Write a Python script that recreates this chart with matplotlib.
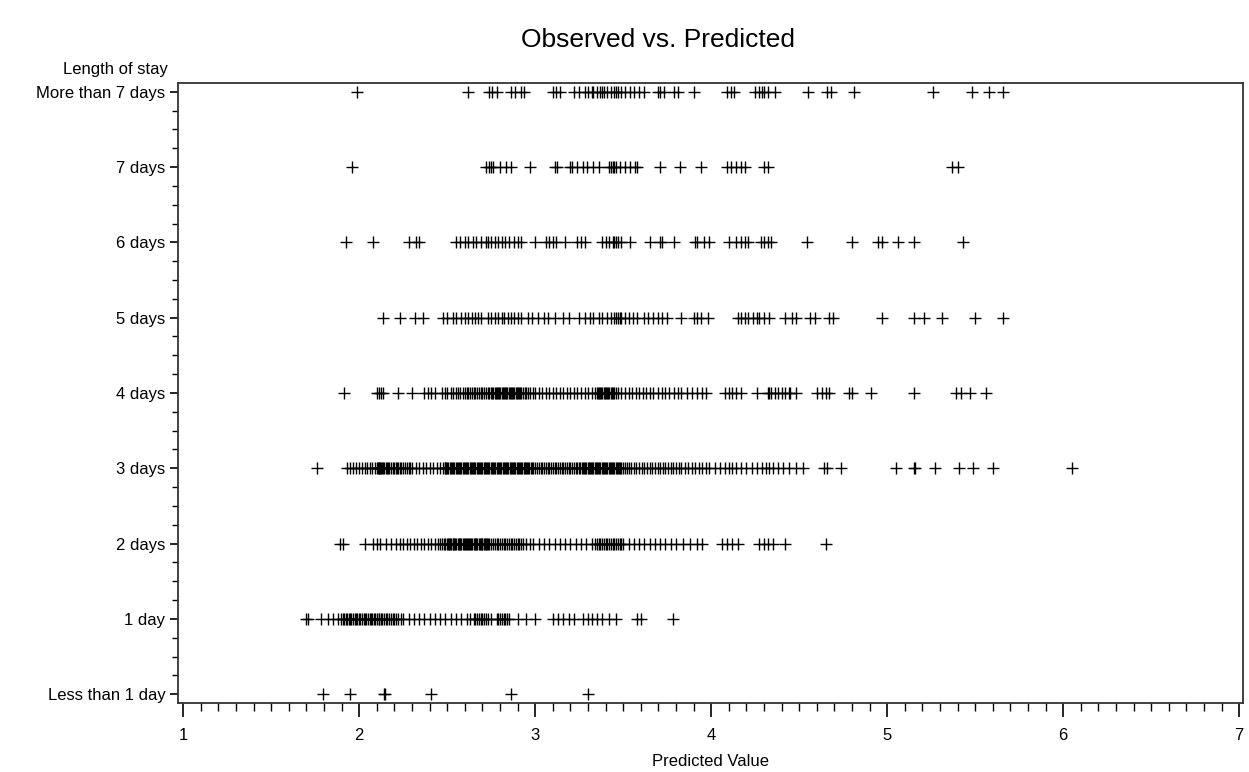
import matplotlib
matplotlib.use("Agg")
import matplotlib.pyplot as plt
from matplotlib.ticker import MultipleLocator

plt.rcParams['font.family'] = ['Liberation Sans', 'DejaVu Sans']

categories = ["Less than 1 day", "1 day", "2 days", "3 days", "4 days",
              "5 days", "6 days", "7 days", "More than 7 days"]

pred_lt1 = [1.795, 1.95, 2.14, 2.145, 2.41, 2.86, 3.30]

pred_1 = [1.70, 1.71, 1.78, 1.82, 1.85, 1.88, 1.895, 1.905, 1.915, 1.925, 1.93,
          1.94, 1.95, 1.955, 1.965, 1.975, 1.98, 1.99, 2.00, 2.005, 2.015, 2.025,
          2.03, 2.04, 2.05, 2.06, 2.065, 2.075, 2.085, 2.09, 2.10, 2.11, 2.115,
          2.125, 2.13, 2.14, 2.15, 2.16, 2.17, 2.18, 2.19, 2.20, 2.21, 2.22, 2.235,
          2.25, 2.28, 2.31, 2.34, 2.37, 2.40, 2.43, 2.46, 2.49, 2.52, 2.55, 2.58,
          2.61, 2.63, 2.65, 2.66, 2.67, 2.68, 2.69, 2.70, 2.71, 2.72, 2.73, 2.75,
          2.78, 2.79, 2.80, 2.81, 2.82, 2.83, 2.84, 2.85, 2.90, 2.95, 3.00,
          3.10, 3.13, 3.16, 3.19, 3.22, 3.27, 3.30, 3.32, 3.35, 3.38, 3.42, 3.46,
          3.58, 3.60, 3.78]

pred_2 = [1.89, 1.91, 2.03, 2.08, 2.10, 2.12, 2.15, 2.18, 2.21, 2.23, 2.25, 2.27,
          2.29, 2.31, 2.33, 2.35, 2.37, 2.39, 2.41, 2.43, 2.45, 2.46, 2.47, 2.48,
          2.49, 2.50, 2.505, 2.51, 2.515, 2.52, 2.53, 2.535, 2.54, 2.545, 2.55,
          2.56, 2.565, 2.57, 2.575, 2.58, 2.59, 2.595, 2.60, 2.605, 2.61, 2.62,
          2.625, 2.63, 2.635, 2.64, 2.65, 2.655, 2.66, 2.665, 2.67, 2.68, 2.685,
          2.69, 2.695, 2.70, 2.71, 2.715, 2.72, 2.725, 2.73, 2.74, 2.75, 2.76,
          2.77, 2.78, 2.79, 2.80, 2.81, 2.82, 2.83, 2.84, 2.85, 2.86, 2.87, 2.88,
          2.89, 2.90, 2.91, 2.92, 2.93, 2.95, 2.97, 2.99, 3.02, 3.05, 3.08, 3.11,
          3.14, 3.17, 3.20, 3.23, 3.26, 3.29, 3.32, 3.34, 3.35, 3.36, 3.37, 3.38,
          3.39, 3.40, 3.41, 3.42, 3.43, 3.44, 3.45, 3.46, 3.47, 3.48, 3.49, 3.50,
          3.53, 3.56, 3.59, 3.62, 3.65, 3.68, 3.71, 3.74, 3.77, 3.80, 3.84, 3.88,
          3.92, 3.95, 4.06, 4.09, 4.12, 4.15, 4.27, 4.30, 4.32, 4.35, 4.42, 4.65]

pred_3 = [1.76, 1.93, 1.95, 1.965, 1.98, 2.00, 2.015, 2.03, 2.045, 2.06, 2.075,
          2.09, 2.10, 2.105, 2.11, 2.115, 2.12, 2.125, 2.13, 2.135, 2.14, 2.15,
          2.16, 2.165, 2.17, 2.18, 2.19, 2.20, 2.21, 2.215, 2.22, 2.23, 2.24, 2.25,
          2.26, 2.27, 2.28, 2.29, 2.30, 2.32, 2.34, 2.36, 2.38, 2.40, 2.42, 2.44,
          2.46, 2.475, 2.485, 2.49, 2.495, 2.50, 2.507, 2.514, 2.52, 2.527, 2.534,
          2.54, 2.547, 2.554, 2.56, 2.567, 2.574, 2.58, 2.587, 2.594, 2.60, 2.607,
          2.614, 2.62, 2.627, 2.634, 2.64, 2.647, 2.654, 2.66, 2.667, 2.674, 2.68,
          2.687, 2.694, 2.70, 2.707, 2.714, 2.72, 2.727, 2.734, 2.74, 2.747, 2.754,
          2.76, 2.767, 2.774, 2.78, 2.787, 2.794, 2.80, 2.807, 2.814, 2.82, 2.827,
          2.834, 2.84, 2.847, 2.854, 2.86, 2.867, 2.874, 2.88, 2.887, 2.894, 2.90,
          2.907, 2.914, 2.92, 2.927, 2.934, 2.94, 2.947, 2.954, 2.96, 2.967, 2.974,
          2.98, 2.99, 3.00, 3.01, 3.02, 3.03, 3.04, 3.05, 3.06, 3.07, 3.08, 3.09,
          3.10, 3.11, 3.12, 3.13, 3.14, 3.15, 3.16, 3.17, 3.18, 3.19, 3.20, 3.21,
          3.22, 3.23, 3.24, 3.25, 3.257, 3.264, 3.27, 3.277, 3.284, 3.29, 3.297,
          3.304, 3.31, 3.317, 3.324, 3.33, 3.337, 3.344, 3.35, 3.357, 3.364, 3.37,
          3.377, 3.384, 3.39, 3.397, 3.404, 3.41, 3.417, 3.424, 3.43, 3.437, 3.444,
          3.45, 3.457, 3.464, 3.47, 3.477, 3.484, 3.49, 3.50, 3.51, 3.52, 3.53,
          3.545, 3.56, 3.575, 3.59, 3.605, 3.62, 3.635, 3.65, 3.665, 3.68, 3.695,
          3.71, 3.725, 3.74, 3.755, 3.77, 3.785, 3.80, 3.815, 3.83, 3.85, 3.87,
          3.89, 3.91, 3.93, 3.95, 3.97, 3.99, 4.02, 4.05, 4.08, 4.10, 4.12, 4.14,
          4.17, 4.20, 4.23, 4.26, 4.29, 4.31, 4.33, 4.35, 4.38, 4.41, 4.44, 4.48,
          4.52, 4.64, 4.66, 4.74, 5.05, 5.15, 5.16, 5.27, 5.41, 5.49, 5.60, 6.05]

pred_4 = [1.913, 2.10, 2.115, 2.125, 2.135, 2.22, 2.30, 2.37, 2.39, 2.41, 2.43,
          2.47, 2.49, 2.50, 2.52, 2.53, 2.55, 2.56, 2.57, 2.59, 2.60, 2.61, 2.62,
          2.63, 2.64, 2.65, 2.66, 2.67, 2.68, 2.69, 2.70, 2.71, 2.72, 2.73, 2.74,
          2.75, 2.755, 2.76, 2.77, 2.775, 2.78, 2.79, 2.795, 2.80, 2.81, 2.815,
          2.82, 2.83, 2.835, 2.84, 2.85, 2.855, 2.86, 2.87, 2.875, 2.88, 2.89,
          2.895, 2.90, 2.91, 2.915, 2.92, 2.93, 2.94, 2.95, 2.96, 2.97, 2.99,
          3.00, 3.02, 3.04, 3.06, 3.08, 3.10, 3.12, 3.14, 3.16, 3.18, 3.20, 3.22,
          3.24, 3.26, 3.28, 3.30, 3.32, 3.34, 3.35, 3.355, 3.36, 3.37, 3.375, 3.38,
          3.39, 3.395, 3.40, 3.41, 3.415, 3.42, 3.43, 3.435, 3.44, 3.45, 3.46,
          3.47, 3.49, 3.51, 3.53, 3.55, 3.57, 3.59, 3.61, 3.63, 3.65, 3.67, 3.70,
          3.72, 3.74, 3.76, 3.79, 3.81, 3.83, 3.86, 3.89, 3.92, 3.95, 3.97, 4.08,
          4.10, 4.12, 4.14, 4.17, 4.26, 4.32, 4.33, 4.34, 4.36, 4.38, 4.40, 4.42,
          4.44, 4.45, 4.48, 4.60, 4.63, 4.65, 4.67, 4.78, 4.80, 4.91, 5.15, 5.39,
          5.42, 5.47, 5.56]

pred_5 = [2.135, 2.23, 2.315, 2.36, 2.475, 2.50, 2.53, 2.55, 2.58, 2.60, 2.62,
          2.64, 2.655, 2.675, 2.69, 2.73, 2.75, 2.77, 2.79, 2.81, 2.825, 2.845,
          2.86, 2.88, 2.90, 2.92, 2.96, 2.98, 3.015, 3.05, 3.07, 3.11, 3.16, 3.19,
          3.25, 3.28, 3.31, 3.33, 3.36, 3.38, 3.41, 3.43, 3.45, 3.46, 3.47, 3.48,
          3.49, 3.51, 3.53, 3.555, 3.58, 3.62, 3.64, 3.67, 3.70, 3.72, 3.75, 3.83,
          3.90, 3.92, 3.94, 3.98, 4.15, 4.17, 4.19, 4.21, 4.24, 4.26, 4.27, 4.30,
          4.33, 4.42, 4.46, 4.48, 4.56, 4.59, 4.67, 4.69, 4.97, 5.15, 5.21, 5.31,
          5.50, 5.66]

pred_6 = [1.926, 2.08, 2.285, 2.32, 2.34, 2.55, 2.57, 2.60, 2.62, 2.646, 2.665,
          2.69, 2.72, 2.73, 2.75, 2.77, 2.79, 2.81, 2.83, 2.85, 2.88, 2.90, 2.92,
          3.00, 3.06, 3.08, 3.10, 3.12, 3.17, 3.24, 3.26, 3.28, 3.38, 3.40, 3.42,
          3.44, 3.45, 3.46, 3.47, 3.49, 3.54, 3.65, 3.71, 3.72, 3.79, 3.91, 3.92,
          3.96, 3.99, 4.10, 4.14, 4.17, 4.19, 4.21, 4.28, 4.30, 4.32, 4.34, 4.545,
          4.80, 4.95, 4.97, 5.06, 5.15, 5.43]

pred_7 = [1.96, 2.72, 2.735, 2.746, 2.76, 2.80, 2.835, 2.86, 2.97, 3.11, 3.125,
          3.20, 3.21, 3.24, 3.27, 3.295, 3.33, 3.365, 3.42, 3.43, 3.44, 3.45, 3.46,
          3.48, 3.51, 3.54, 3.565, 3.58, 3.71, 3.82, 3.94, 4.09, 4.11, 4.14, 4.17,
          4.19, 4.30, 4.32, 5.37, 5.40]

pred_gt7 = [1.99, 2.62, 2.735, 2.754, 2.78, 2.864, 2.886, 2.917, 2.936, 3.10, 3.12,
            3.14, 3.22, 3.25, 3.28, 3.30, 3.32, 3.33, 3.35, 3.37, 3.38, 3.39, 3.41,
            3.43, 3.45, 3.46, 3.47, 3.49, 3.51, 3.54, 3.56, 3.59, 3.62, 3.70, 3.71,
            3.73, 3.79, 3.81, 3.90, 4.09, 4.11, 4.13, 4.25, 4.27, 4.29, 4.30, 4.32,
            4.36, 4.55, 4.66, 4.68, 4.81, 5.26, 5.48, 5.58, 5.66]

series = [pred_lt1, pred_1, pred_2, pred_3, pred_4, pred_5, pred_6, pred_7, pred_gt7]

fig = plt.figure(figsize=(12.49, 7.72), dpi=100)
ax = fig.add_axes([0.1425, 0.0891, 0.8525, 0.8038])

for level, xs in enumerate(series):
    ax.plot(xs, [level] * len(xs), linestyle='none', marker='+',
            markersize=8, markeredgewidth=1.0, color='black')

ax.set_xlim(0.97, 7.02)
ax.set_ylim(-0.12, 8.12)
ax.set_yticks(range(len(categories)))
ax.set_yticklabels(categories)
ax.set_xticks([1, 2, 3, 4, 5, 6, 7])
ax.xaxis.set_minor_locator(MultipleLocator(0.1))
ax.yaxis.set_minor_locator(MultipleLocator(0.25))

ax.tick_params(axis='x', which='major', length=10, width=1.2, direction='out',
               labelsize=12, pad=8)
ax.tick_params(axis='x', which='minor', length=6, width=1.0, direction='out')
ax.tick_params(axis='y', which='major', length=6, width=1.2, direction='out',
               labelsize=12, pad=3)
ax.tick_params(axis='y', which='minor', length=4, width=1.0, direction='out')

for s in ax.spines.values():
    s.set_linewidth(1.3)
    s.set_color('#333333')

ax.set_xlabel("Predicted Value", fontsize=12, labelpad=8)
fig.text(0.1345, 0.900, "Length of stay", ha='right', va='bottom', fontsize=12)
fig.text(0.527, 0.948, "Observed vs. Predicted", ha='center', va='center', fontsize=19)

fig.savefig("out.png", dpi=100)
